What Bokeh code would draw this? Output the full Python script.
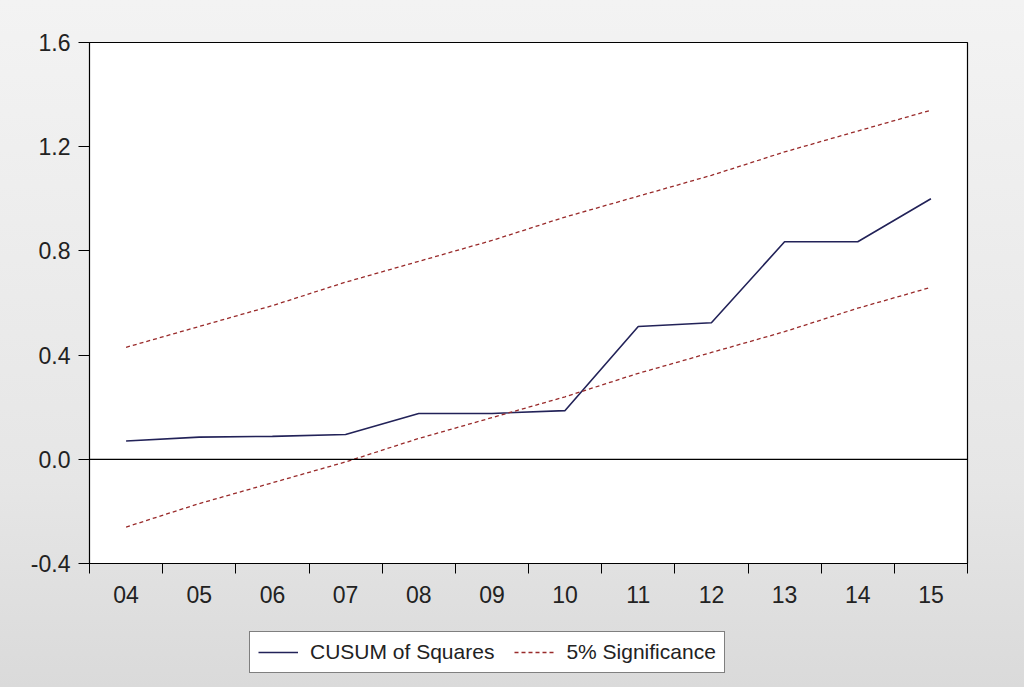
from bokeh.plotting import figure
from bokeh.layouts import column
from bokeh.models import (FixedTicker, NumeralTickFormatter, Span, Legend,
                          LegendItem, Range1d)
from bokeh.embed import file_html
from bokeh.resources import INLINE

# Sample years (two-digit labels) and statistics
years = ["04", "05", "06", "07", "08", "09", "10", "11", "12", "13", "14", "15"]
cusum_sq = [0.07, 0.085, 0.088, 0.095, 0.176, 0.176, 0.187, 0.51, 0.524, 0.835, 0.835, 1.0]
upper_5 = [0.43, 0.51, 0.59, 0.68, 0.76, 0.84, 0.93, 1.01, 1.09, 1.18, 1.26, 1.34]
lower_5 = [-0.26, -0.17, -0.09, -0.01, 0.08, 0.16, 0.24, 0.33, 0.41, 0.49, 0.58, 0.66]
y_ticks = [-0.4, 0.0, 0.4, 0.8, 1.2, 1.6]

FONT = "Liberation Sans"
CUSUM_STYLE = dict(line_color="#222258", line_width=1.6)
BAND_STYLE = dict(line_color="#992a2a", line_width=1.3, line_dash="4 3")

xs = list(range(len(years)))

p = figure(width=1024, height=620, output_backend="svg", toolbar_location=None,
           x_range=Range1d(-0.5, len(years) - 0.5), y_range=Range1d(-0.4, 1.6),
           min_border_left=89, min_border_right=57, min_border_top=42,
           min_border_bottom=57)
p.background_fill_color = "white"
p.border_fill_alpha = 0
p.outline_line_color = "black"
p.outline_line_width = 1.2
p.xgrid.visible = False
p.ygrid.visible = False

# Year labels sit between boundary ticks
xa = p.xaxis[0]
xa.ticker = FixedTicker(ticks=xs, minor_ticks=[i - 0.5 for i in range(len(years) + 1)])
xa.major_label_overrides = {i: y for i, y in zip(xs, years)}
xa.major_tick_line_color = None
xa.minor_tick_line_color = "black"
xa.minor_tick_out = 10
xa.minor_tick_in = 0
xa.axis_line_color = "black"
xa.major_label_text_font = FONT
xa.major_label_text_font_size = "23px"
xa.major_label_text_color = "#222222"
xa.major_label_standoff = 12

ya = p.yaxis[0]
ya.ticker = FixedTicker(ticks=y_ticks)
ya.formatter = NumeralTickFormatter(format="0.0")
ya.minor_tick_line_color = None
ya.major_tick_out = 11
ya.major_tick_in = 0
ya.axis_line_color = "black"
ya.major_label_text_font = FONT
ya.major_label_text_font_size = "23px"
ya.major_label_text_color = "#222222"
ya.major_label_standoff = 8

p.add_layout(Span(location=0, dimension="width", line_color="black", line_width=1.2))

p.line(xs, cusum_sq, **CUSUM_STYLE)
p.line(xs, upper_5, **BAND_STYLE)
p.line(xs, lower_5, **BAND_STYLE)

# Legend strip underneath the chart; its key lines lie outside the visible range
lg = figure(width=1024, height=67, output_backend="svg", toolbar_location=None,
            x_range=Range1d(0, 1), y_range=Range1d(0, 1),
            min_border_left=0, min_border_right=0, min_border_top=0,
            min_border_bottom=0)
lg.axis.visible = False
lg.grid.visible = False
lg.outline_line_color = None
lg.background_fill_alpha = 0
lg.border_fill_alpha = 0
k_cusum = lg.line([-5, -4], [-5, -4], **CUSUM_STYLE)
k_band = lg.line([-5, -4], [-5, -4], **BAND_STYLE)

legend = Legend(items=[LegendItem(label="CUSUM of Squares", renderers=[k_cusum]),
                       LegendItem(label="5% Significance", renderers=[k_band])],
                orientation="horizontal", location=(160, 14),
                border_line_color="black", border_line_width=1.2,
                background_fill_color="white", background_fill_alpha=1,
                label_text_font=FONT, label_text_font_size="21px",
                label_text_color="#222222",
                glyph_width=40, glyph_height=16, label_standoff=12,
                spacing=20, padding=8, margin=0)
lg.add_layout(legend, "center")

page = column(p, lg, spacing=0)

html = file_html(page, INLINE)
html = html.replace(
    "</head>",
    "<style>html,body{margin:0;height:100%;"
    "background:linear-gradient(#f3f3f3,#e6e6e6 70%,#dadada);}</style></head>")
open("out.html", "w").write(html)
